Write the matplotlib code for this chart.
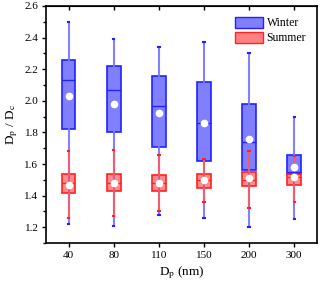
import numpy as np
import matplotlib.pyplot as plt
from matplotlib.patches import Patch
from matplotlib.ticker import MultipleLocator

plt.rcParams['font.family'] = ['Liberation Serif', 'DejaVu Serif']
plt.rcParams['mathtext.fontset'] = 'stix'

sizes = ['40', '80', '110', '150', '200', '300']

# winter: whisker low, q1, median, q3, whisker high, mean
w_lo = [1.22, 1.21, 1.28, 1.26, 1.20, 1.25]
w_q1 = [1.82, 1.80, 1.71, 1.62, 1.56, 1.54]
w_med = [2.13, 2.07, 1.97, 1.86, 1.74, 1.55]
w_q3 = [2.26, 2.22, 2.16, 2.12, 1.98, 1.66]
w_hi = [2.50, 2.39, 2.34, 2.37, 2.30, 1.90]
w_mean = [2.03, 1.98, 1.92, 1.86, 1.76, 1.58]

# summer
s_lo = [1.26, 1.27, 1.30, 1.36, 1.32, 1.36]
s_q1 = [1.42, 1.43, 1.43, 1.45, 1.46, 1.47]
s_med = [1.48, 1.48, 1.48, 1.50, 1.50, 1.52]
s_q3 = [1.54, 1.54, 1.53, 1.54, 1.55, 1.54]
s_hi = [1.68, 1.69, 1.66, 1.63, 1.68, 1.65]
s_mean = [1.47, 1.48, 1.48, 1.50, 1.51, 1.52]


def make_stats(lo, q1, med, q3, hi, mean):
    return [dict(whislo=a, q1=b, med=c, q3=d, whishi=e, mean=f, fliers=[])
            for a, b, c, d, e, f in zip(lo, q1, med, q3, hi, mean)]


def draw(ax, stats, face, edge, line):
    pos = np.arange(1, len(stats) + 1)
    ax.bxp(stats, positions=pos, widths=0.3, showmeans=True, patch_artist=True,
           showfliers=False,
           boxprops=dict(facecolor=face, edgecolor=edge, linewidth=1.2),
           medianprops=dict(color=edge, linewidth=1.0),
           whiskerprops=dict(color=line, linewidth=1.5),
           capprops=dict(color=edge, linewidth=1.5),
           capwidths=0.03,
           meanprops=dict(marker='o', markerfacecolor='white',
                          markeredgecolor='white', markersize=4.5))


fig = plt.figure(figsize=(3.2, 2.83), dpi=100)
ax = fig.add_axes([0.144, 0.141, 0.846, 0.838])

draw(ax, make_stats(w_lo, w_q1, w_med, w_q3, w_hi, w_mean),
     (0.5, 0.5, 1.0, 1.0), '#2222ff', (0.45, 0.45, 1.0, 0.9))
draw(ax, make_stats(s_lo, s_q1, s_med, s_q3, s_hi, s_mean),
     (1.0, 0.3, 0.3, 0.65), '#ff2222', (1.0, 0.35, 0.35, 0.85))

ax.set_xlim(0.5, 6.5)
ax.set_ylim(1.1, 2.6)
ax.set_xticks(np.arange(1, 7))
ax.set_xticklabels(sizes)
ax.yaxis.set_major_locator(MultipleLocator(0.2))
ax.yaxis.set_minor_locator(MultipleLocator(0.1))
ax.tick_params(axis='both', labelsize=8, direction='out', length=3, width=1, pad=2.5)
ax.tick_params(axis='y', which='minor', direction='out', length=2, width=1)
for s in ax.spines.values():
    s.set_linewidth(1.2)

# inward ticks along the top spine
top = ax.secondary_xaxis('top')
top.set_xticks(np.arange(1, 7))
top.tick_params(direction='in', length=3, width=1, labeltop=False)

ax.set_xlabel('D$_\\mathrm{p}$ (nm)', fontsize=9.5, labelpad=3)
ax.set_ylabel('D$_\\mathrm{p}$ / D$_\\mathrm{c}$', fontsize=9.5, labelpad=3)

handles = [Patch(facecolor=(0.5, 0.5, 1.0), edgecolor='#2222ff', label='Winter'),
           Patch(facecolor=(1.0, 0.5, 0.5), edgecolor='#ff2222', label='Summer')]
ax.legend(handles=handles, loc='upper right', frameon=False, fontsize=8.5,
          handlelength=2.4, handleheight=1.1, handletextpad=0.3,
          borderaxespad=0.5, labelspacing=0.2)

fig.savefig('out.png', dpi=100)
